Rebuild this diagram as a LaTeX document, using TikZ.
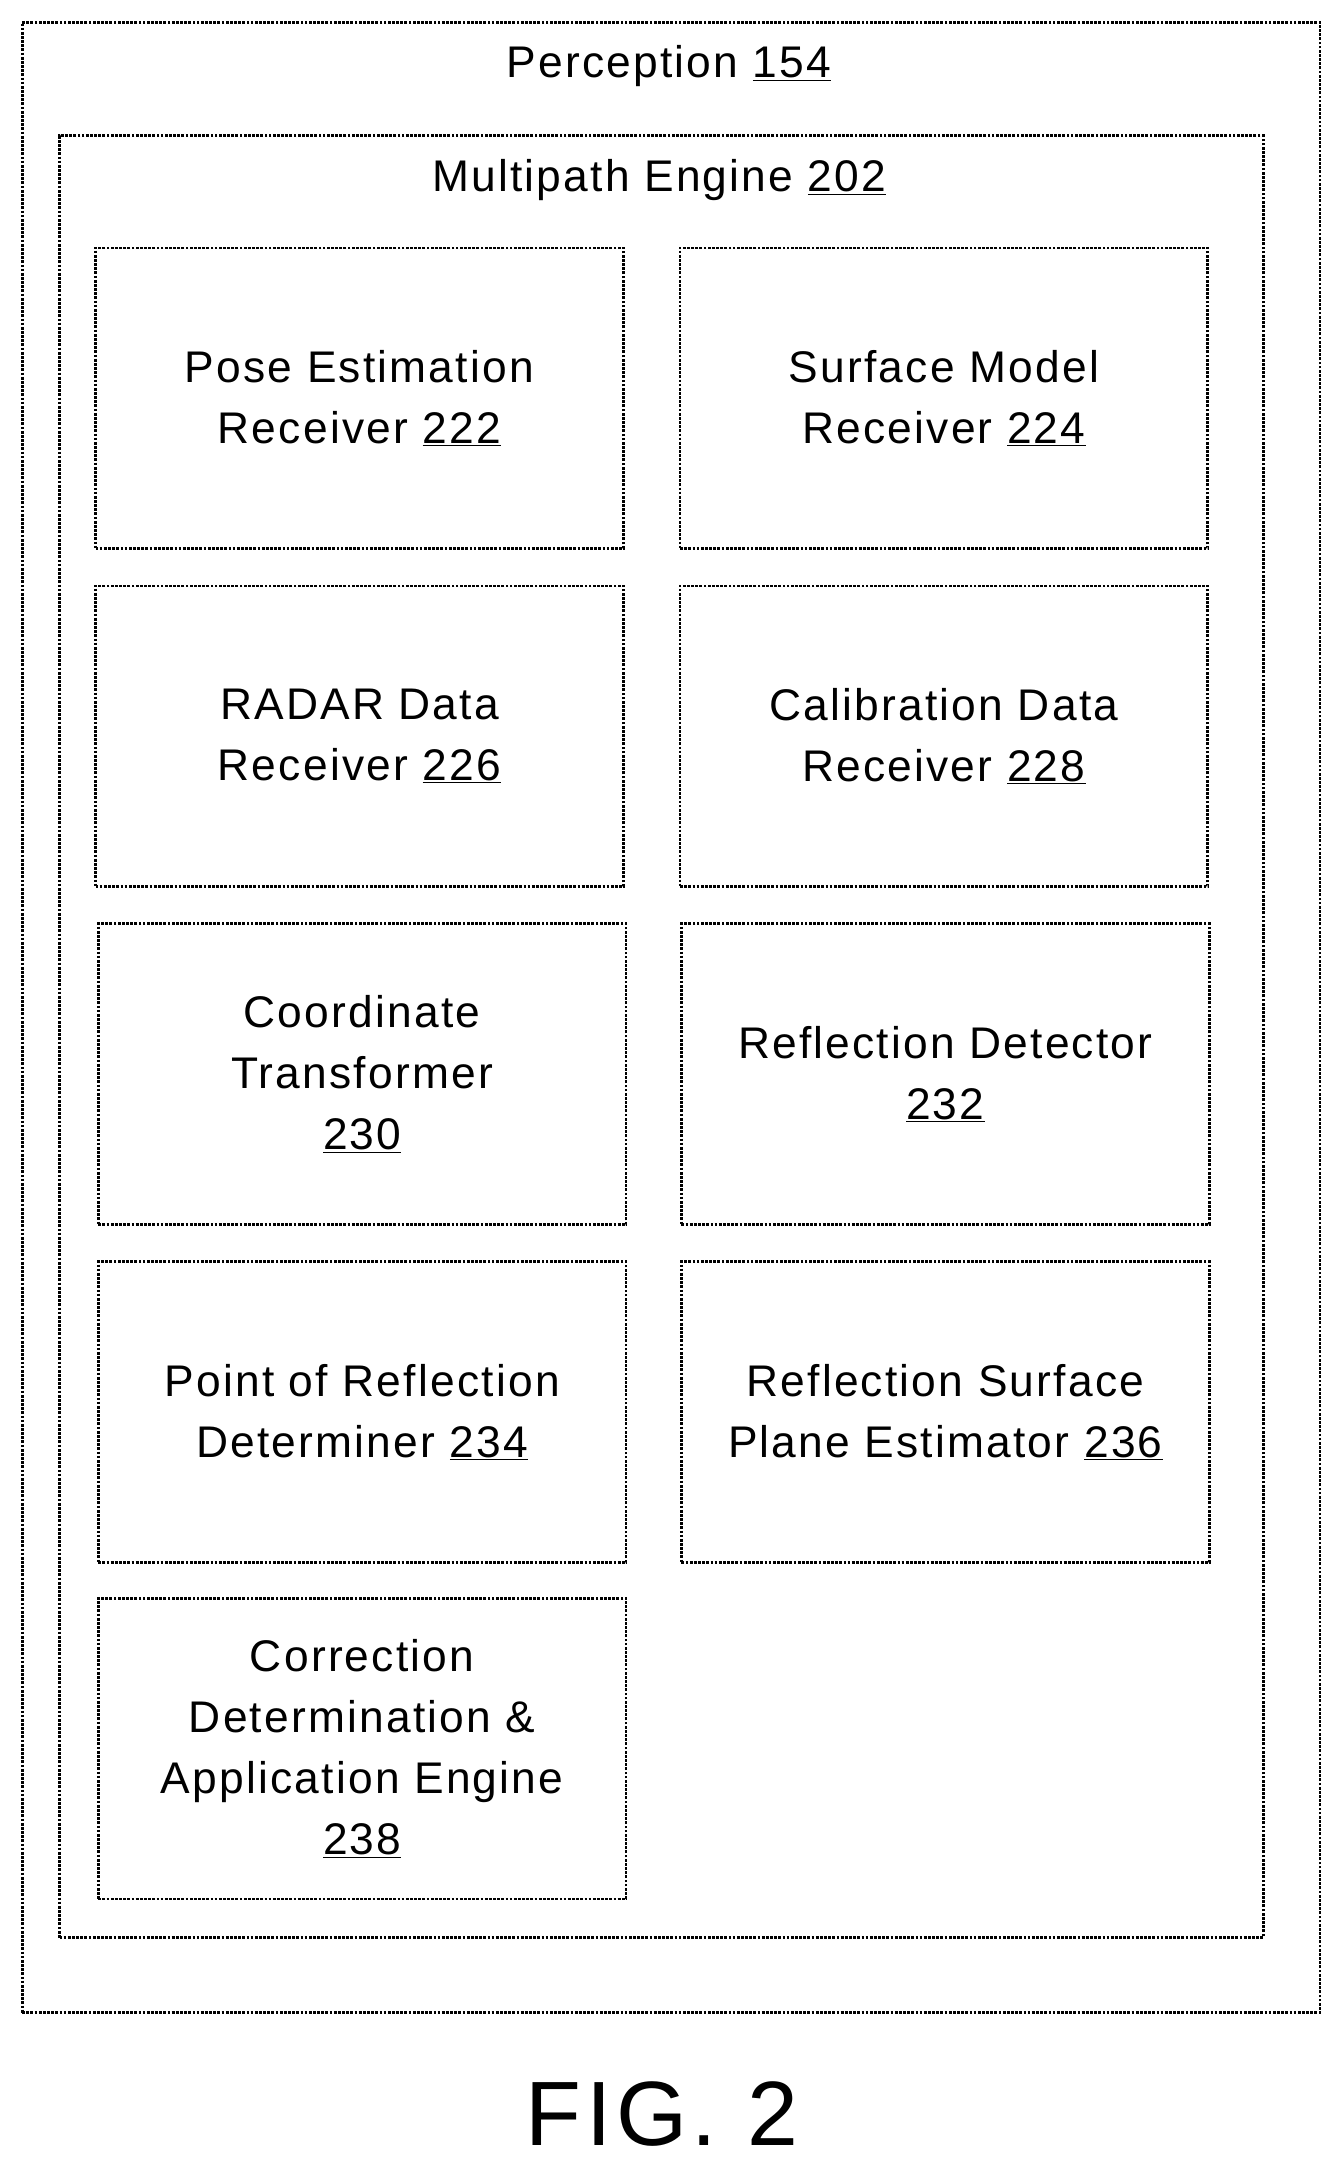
\documentclass[tikz,border=0pt]{standalone}
\usepackage{fontspec}
\setmainfont{Liberation Sans}[LetterSpace=5]
\begin{document}
\begin{tikzpicture}[x=1pt,y=-1pt,
  frame/.style={draw=black,line width=2pt,densely dotted},
  mod/.style={frame,minimum width=381pt,minimum height=217pt,anchor=north west,align=center,inner sep=0pt,font=\fontsize{32}{44}\selectfont},
  lbl/.style={font=\fontsize{32}{40}\selectfont}]
\useasboundingbox (0,0) rectangle (966,1566);
\node[frame,minimum width=937pt,minimum height=1437pt,anchor=north west,inner sep=0pt] (outer) at (15,15) {};
\node[lbl] (ptitle) at (483,48) {Perception \underline{154}};
\node[frame,minimum width=869pt,minimum height=1301pt,anchor=north west,inner sep=0pt] (mp) at (42,97) {};
\node[lbl] (mtitle) at (476,130) {Multipath Engine \underline{202}};
\node[mod] (a) at (68,178) {Pose Estimation\\Receiver \underline{222}};
\node[mod] (b) at (490,178) {Surface Model\\Receiver \underline{224}};
\node[mod] (c) at (68,422) {RADAR Data\\Receiver \underline{226}};
\node[mod] (d) at (490,422) {Calibration Data\\Receiver \underline{228}};
\node[mod] (e) at (70,666) {Coordinate\\Transformer\\\underline{230}};
\node[mod] (f) at (491,666) {Reflection Detector\\\underline{232}};
\node[mod] (g) at (70,910) {Point of Reflection\\Determiner \underline{234}};
\node[mod] (h) at (491,910) {Reflection Surface\\Plane Estimator \underline{236}};
\node[mod] (i) at (70,1153) {Correction\\Determination \&\\Application Engine\\\underline{238}};
\node[font=\fontsize{66}{70}\selectfont] (fig) at (478,1526) {FIG. 2};
\end{tikzpicture}
\end{document}
